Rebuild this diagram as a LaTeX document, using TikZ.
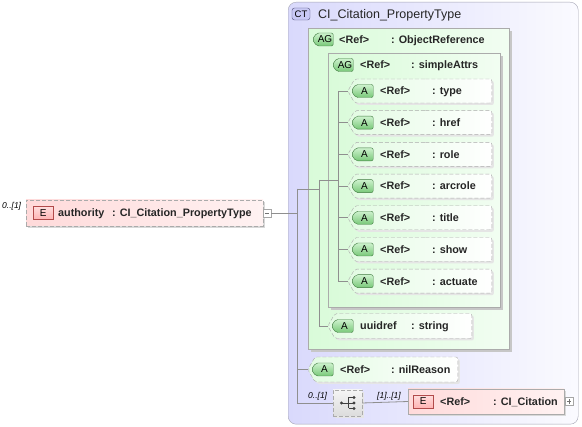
\documentclass[tikz,border=0pt]{standalone}
\usepackage{fontspec}
\setmainfont{Liberation Sans}
\usetikzlibrary{shapes.symbols,shadows,positioning}
\definecolor{ctlav}{HTML}{D9D9FC}
\definecolor{ctedge}{HTML}{A4A4B4}
\definecolor{ctbadgefill}{HTML}{C9C9F5}
\definecolor{ctbadgeedge}{HTML}{4E4E78}
\definecolor{agfill}{HTML}{D9FBD9}
\definecolor{boxedge}{HTML}{ABABAB}
\definecolor{afill}{HTML}{E2FBE2}
\definecolor{gbadgetop}{HTML}{CDF2CD}
\definecolor{gbadgebot}{HTML}{78C878}
\definecolor{gbadgeedge}{HTML}{3F7A3F}
\definecolor{efill}{HTML}{FFDADA}
\definecolor{ebadgefill}{HTML}{FFB4B4}
\definecolor{ebadgeedge}{HTML}{B24A4A}
\definecolor{seqfill}{HTML}{DCDCDC}
\definecolor{connline}{HTML}{8F8F8F}

\begin{document}
\begin{tikzpicture}[x=1pt, y=-1pt,
  ctbox/.style={draw=ctedge, rounded corners=8pt, left color=ctlav, right color=ctlav!12!white,
    anchor=north west, inner sep=0pt},
  ctbadge/.style={draw=ctbadgeedge, fill=ctbadgefill, rounded corners=2.5pt, minimum width=18pt,
    minimum height=12pt, inner sep=0pt, font=\fontsize{9.5}{9.5}\selectfont},
  agbox/.style={draw=boxedge, left color=agfill, right color=agfill!35!white, anchor=north west,
    inner sep=0pt, drop shadow={shadow xshift=3pt, shadow yshift=-3pt, fill=black!22, opacity=1}},
  attrbox/.style={shape=signal, signal to=west, signal pointer angle=120, draw=boxedge,
    dash pattern=on 4pt off 2pt, rounded corners=2pt, minimum height=#1, left color=afill,
    right color=white, anchor=east, inner sep=0pt,
    drop shadow={shadow xshift=2pt, shadow yshift=-2pt, fill=black!10, opacity=1}},
  attrbox/.default=24pt,
  gbadge/.style={shape=signal, signal to=west, signal pointer angle=110, draw=gbadgeedge,
    rounded corners=2pt, top color=gbadgetop, bottom color=gbadgebot, minimum width=#1,
    minimum height=13pt, inner sep=0pt, anchor=west, font=\fontsize{10}{10}\selectfont},
  gbadge/.default=22pt,
  elembox/.style={draw=boxedge, left color=efill, right color=efill!35!white, minimum height=25pt,
    anchor=west, inner sep=0pt,
    drop shadow={shadow xshift=2pt, shadow yshift=-2pt, fill=black!15, opacity=1}},
  ebadge/.style={draw=ebadgeedge, top color=ebadgefill!45!white, bottom color=ebadgefill,
    minimum width=20pt, minimum height=13pt, inner sep=0pt, anchor=west,
    font=\fontsize{10}{10}\selectfont},
  seqbox/.style={draw=boxedge, dash pattern=on 4pt off 2pt, top color=seqfill!30!white,
    bottom color=seqfill, minimum width=29pt, minimum height=26pt, inner sep=0pt,
    drop shadow={shadow xshift=2pt, shadow yshift=-2pt, fill=black!10, opacity=1}},
  pmbox/.style={draw=black!35, fill=white, minimum size=8pt, inner sep=0pt, anchor=west},
  txt/.style={font=\fontsize{10.8}{13}\selectfont\bfseries, text=black!85, inner sep=0pt,
    text height=7.8pt, text depth=0pt, anchor=west},
  title/.style={font=\fontsize{12.5}{14}\selectfont, text=black!85, inner sep=0pt,
    text height=9pt, text depth=0pt, anchor=west},
  mult/.style={font=\fontsize{8.5}{9}\selectfont\itshape, inner sep=0pt, text height=6pt,
    text depth=0pt, anchor=west},
  conn/.style={draw=connline, line width=0.8pt}
]
  \fill[white] (0,0) rectangle (582,427);
  \useasboundingbox (0,0) rectangle (582,427);

  % Complex type frame
  \node[ctbox, minimum width=290pt, minimum height=422pt] (ct) at (288,2) {};
  \node[ctbadge] (ctBadge) at (301,14) {CT};
  \node[title] (ctName) at (318,14) {CI\_Citation\_PropertyType};

  % Attribute groups
  \node[agbox, minimum width=201pt, minimum height=321pt] (objRef) at (308,28) {};
  \node[gbadge=21pt] (objRefBadge) at (312,39.5) {AG};
  \node[txt] (objRefRef) at (339,39.5) {<Ref>};
  \node[txt] (objRefName) at (391,39.5) {: ObjectReference};

  \node[agbox, minimum width=172pt, minimum height=254pt] (simple) at (328,53) {};
  \node[gbadge=21pt] (simpleBadge) at (332,65) {AG};
  \node[txt] (simpleRef) at (360,65) {<Ref>};
  \node[txt] (simpleName) at (411,65) {: simpleAttrs};

  % Attributes
  \foreach \n [count=\i from 0] in {type,href,role,arcrole,title,show,actuate} {
    \pgfmathsetmacro\yc{91+31.7*\i}
    \node[attrbox, minimum width=144pt] (\n) at (492,\yc) {};
    \node[gbadge] (\n-badge) at (351,\yc) {A};
    \node[txt] (\n-ref) at (380,\yc) {<Ref>};
    \node[txt] (\n-name) at (432,\yc) {: \n};
  }

  \node[attrbox=25pt, minimum width=144pt] (uuidref) at (472,326) {};
  \node[gbadge] (uuidrefBadge) at (331,326) {A};
  \node[txt] (uuidrefName) at (360,326) {uuidref};
  \node[txt] (uuidrefType) at (411,326) {: string};

  \node[attrbox=25pt, minimum width=150pt] (nilReason) at (458,369.5) {};
  \node[gbadge] (nilReasonBadge) at (311,369.5) {A};
  \node[txt] (nilReasonRef) at (340,369.5) {<Ref>};
  \node[txt] (nilReasonName) at (391,369.5) {: nilReason};

  % Sequence and child element
  \node[seqbox] (seq) at (347.5,403) {};
  \node[elembox, minimum width=156pt] (citation) at (408,401.5) {};
  \node[ebadge] (citationBadge) at (413,401.5) {E};
  \node[txt] (citationRef) at (440,401.5) {<Ref>};
  \node[txt] (citationName) at (493,401.5) {: CI\_Citation};
  \node[pmbox] (citPlus) at (565,401.5) {};
  \node[mult] (seqMult) at (308,395.5) {0..[1]};
  \node[mult] (citMult) at (377,395.5) {[1]..[1]};

  % Root element
  \node[elembox, dashed, dash pattern=on 4pt off 2pt, minimum width=237pt, minimum height=26pt]
    (authority) at (26,213) {};
  \node[ebadge] (authorityBadge) at (33,213) {E};
  \node[txt] (authorityName) at (58,213) {authority};
  \node[txt] (authorityType) at (112,213) {: CI\_Citation\_PropertyType};
  \node[pmbox] (authMinus) at (263,213) {};
  \node[mult] (authMult) at (2,206) {0..[1]};

  % Plus / minus marks
  \draw[black!55] ([xshift=2pt]authMinus.west) -- ([xshift=-2pt]authMinus.east);
  \draw[black!55] ([xshift=2pt]citPlus.west) -- ([xshift=-2pt]citPlus.east);
  \draw[black!55] ([yshift=2pt]citPlus.south) -- ([yshift=-2pt]citPlus.north);

  % Sequence icon
  \draw[black!75, line width=0.8pt] ([xshift=-6pt]seq.center) -- ([xshift=1pt]seq.center);
  \draw[black!75, line width=0.8pt] ([xshift=1pt, yshift=5.5pt]seq.center) -- ([xshift=1pt, yshift=-5.5pt]seq.center);
  \fill[black!75] ([xshift=-6pt]seq.center) circle (1.7pt);
  \foreach \dy in {5.5,0,-5.5} {
    \draw[black!75, line width=0.8pt] ([xshift=1pt, yshift=\dy pt]seq.center) -- ([xshift=6pt, yshift=\dy pt]seq.center);
    \fill[black!75] ([xshift=6.5pt, yshift=\dy pt]seq.center) circle (1.7pt);
  }

  % Connectors
  \coordinate (jMain) at (297,189);
  \coordinate (jObj) at (319,180);
  \coordinate (jAttr) at (338,91);
  \draw[conn] (authMinus.east) -- (authMinus.east -| jMain);
  \draw[conn] (jMain) |- (seq.west);
  \draw[conn] (jMain) |- (nilReason.west);
  \draw[conn] (jMain) -- (jMain -| jObj);
  \draw[conn] (jObj) |- (uuidref.west);
  \draw[conn] (jObj) -| (jAttr);
  \draw[conn] (jAttr) |- (actuate.west);
  \foreach \n in {type,href,role,arcrole,title,show}
    \draw[conn] (jAttr |- \n.west) -- (\n.west);
  \draw[conn] (seq.east) -- (citation.west);
\end{tikzpicture}
\end{document}
